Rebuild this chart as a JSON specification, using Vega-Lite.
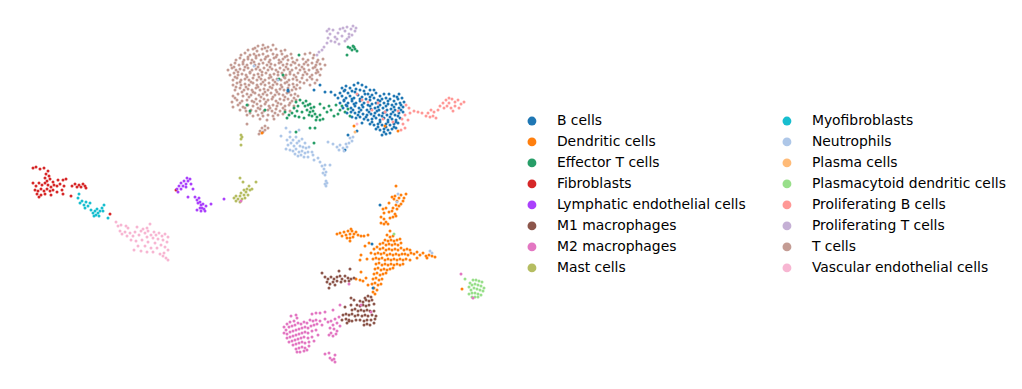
{"$schema":"https://vega.github.io/schema/vega-lite/v6.json","width":1022,"height":389,"autosize":{"type":"fit","contains":"padding"},"padding":0,"background":"white","config":{"view":{"stroke":null}},
"data":{"values":[
{"c":"T","x":258,"y":46},{"c":"T","x":263,"y":45},{"c":"T","x":268,"y":47},{"c":"T","x":273,"y":45},
{"c":"T","x":248,"y":50},{"c":"T","x":253,"y":49},{"c":"T","x":257,"y":51},{"c":"T","x":262,"y":49},{"c":"T","x":267,"y":51},{"c":"T","x":271,"y":50},{"c":"T","x":276,"y":49},{"c":"T","x":281,"y":51},{"c":"T","x":285,"y":50},
{"c":"T","x":241,"y":55},{"c":"T","x":245,"y":53},{"c":"T","x":250,"y":55},{"c":"T","x":254,"y":54},{"c":"T","x":259,"y":55},{"c":"T","x":263,"y":54},{"c":"T","x":268,"y":56},{"c":"T","x":273,"y":54},{"c":"T","x":277,"y":55},{"c":"T","x":282,"y":54},{"c":"T","x":287,"y":56},{"c":"T","x":291,"y":54},{"c":"T","x":305,"y":54},{"c":"T","x":310,"y":53},{"c":"T","x":314,"y":55},
{"c":"T","x":236,"y":60},{"c":"T","x":240,"y":58},{"c":"T","x":244,"y":60},{"c":"T","x":248,"y":59},{"c":"T","x":252,"y":60},{"c":"T","x":256,"y":58},{"c":"T","x":261,"y":60},{"c":"T","x":265,"y":59},{"c":"T","x":270,"y":60},{"c":"T","x":274,"y":58},{"c":"T","x":279,"y":60},{"c":"T","x":283,"y":59},{"c":"T","x":288,"y":60},{"c":"T","x":292,"y":58},{"c":"T","x":297,"y":60},{"c":"T","x":303,"y":59},{"c":"T","x":308,"y":60},{"c":"T","x":313,"y":58},{"c":"T","x":318,"y":60},{"c":"T","x":323,"y":59},
{"c":"T","x":231,"y":65},{"c":"T","x":235,"y":63},{"c":"T","x":239,"y":65},{"c":"T","x":243,"y":64},{"c":"T","x":247,"y":65},{"c":"T","x":251,"y":63},{"c":"T","x":255,"y":65},{"c":"T","x":259,"y":64},{"c":"T","x":263,"y":63},{"c":"T","x":267,"y":65},{"c":"T","x":271,"y":64},{"c":"T","x":275,"y":65},{"c":"T","x":279,"y":63},{"c":"T","x":283,"y":65},{"c":"T","x":287,"y":64},{"c":"T","x":291,"y":65},{"c":"T","x":295,"y":63},{"c":"T","x":299,"y":65},{"c":"T","x":304,"y":64},{"c":"T","x":308,"y":65},{"c":"T","x":312,"y":63},{"c":"T","x":316,"y":65},{"c":"T","x":320,"y":64},{"c":"T","x":325,"y":65},
{"c":"T","x":228,"y":70},{"c":"T","x":232,"y":68},{"c":"T","x":236,"y":70},{"c":"T","x":240,"y":69},{"c":"T","x":244,"y":70},{"c":"T","x":248,"y":68},{"c":"T","x":252,"y":70},{"c":"T","x":256,"y":69},{"c":"T","x":260,"y":70},{"c":"T","x":264,"y":68},{"c":"T","x":268,"y":70},{"c":"T","x":272,"y":69},{"c":"T","x":276,"y":70},{"c":"T","x":280,"y":68},{"c":"T","x":284,"y":70},{"c":"T","x":288,"y":69},{"c":"T","x":292,"y":70},{"c":"T","x":296,"y":68},{"c":"T","x":300,"y":70},{"c":"T","x":304,"y":69},{"c":"T","x":309,"y":70},{"c":"T","x":313,"y":68},{"c":"T","x":317,"y":70},{"c":"T","x":321,"y":69},
{"c":"T","x":230,"y":75},{"c":"T","x":234,"y":73},{"c":"T","x":238,"y":75},{"c":"T","x":242,"y":74},{"c":"T","x":246,"y":75},{"c":"T","x":250,"y":73},{"c":"T","x":254,"y":75},{"c":"T","x":258,"y":74},{"c":"T","x":262,"y":75},{"c":"T","x":266,"y":73},{"c":"T","x":270,"y":75},{"c":"T","x":274,"y":74},{"c":"T","x":278,"y":75},{"c":"T","x":282,"y":73},{"c":"T","x":286,"y":75},{"c":"T","x":290,"y":74},{"c":"T","x":294,"y":75},{"c":"T","x":298,"y":73},{"c":"T","x":303,"y":75},{"c":"T","x":307,"y":74},{"c":"T","x":312,"y":75},{"c":"T","x":316,"y":73},{"c":"T","x":320,"y":75},
{"c":"T","x":233,"y":80},{"c":"T","x":237,"y":78},{"c":"T","x":241,"y":80},{"c":"T","x":245,"y":79},{"c":"T","x":249,"y":80},{"c":"T","x":253,"y":78},{"c":"T","x":257,"y":80},{"c":"T","x":261,"y":79},{"c":"T","x":265,"y":80},{"c":"T","x":269,"y":78},{"c":"T","x":273,"y":80},{"c":"T","x":277,"y":79},{"c":"T","x":281,"y":80},{"c":"T","x":285,"y":78},{"c":"T","x":289,"y":80},{"c":"T","x":293,"y":79},{"c":"T","x":297,"y":80},{"c":"T","x":302,"y":78},{"c":"T","x":307,"y":80},{"c":"T","x":312,"y":79},{"c":"T","x":317,"y":80},
{"c":"T","x":233,"y":85},{"c":"T","x":237,"y":83},{"c":"T","x":241,"y":85},{"c":"T","x":245,"y":84},{"c":"T","x":249,"y":85},{"c":"T","x":253,"y":83},{"c":"T","x":257,"y":85},{"c":"T","x":261,"y":84},{"c":"T","x":265,"y":85},{"c":"T","x":269,"y":83},{"c":"T","x":273,"y":85},{"c":"T","x":277,"y":84},{"c":"T","x":281,"y":85},{"c":"T","x":285,"y":83},{"c":"T","x":289,"y":85},{"c":"T","x":293,"y":84},{"c":"T","x":297,"y":85},{"c":"T","x":304,"y":83},{"c":"T","x":310,"y":85},{"c":"T","x":315,"y":83},
{"c":"T","x":235,"y":90},{"c":"T","x":240,"y":88},{"c":"T","x":244,"y":90},{"c":"T","x":248,"y":89},{"c":"T","x":252,"y":90},{"c":"T","x":256,"y":88},{"c":"T","x":260,"y":90},{"c":"T","x":264,"y":89},{"c":"T","x":268,"y":90},{"c":"T","x":272,"y":88},{"c":"T","x":276,"y":90},{"c":"T","x":280,"y":89},{"c":"T","x":284,"y":90},{"c":"T","x":288,"y":88},{"c":"T","x":292,"y":90},{"c":"T","x":296,"y":89},{"c":"T","x":300,"y":88},
{"c":"T","x":233,"y":96},{"c":"T","x":238,"y":94},{"c":"T","x":243,"y":96},{"c":"T","x":247,"y":94},{"c":"T","x":251,"y":95},{"c":"T","x":255,"y":93},{"c":"T","x":259,"y":95},{"c":"T","x":263,"y":94},{"c":"T","x":267,"y":95},{"c":"T","x":271,"y":93},{"c":"T","x":275,"y":95},{"c":"T","x":279,"y":94},{"c":"T","x":283,"y":95},{"c":"T","x":287,"y":93},{"c":"T","x":291,"y":95},{"c":"T","x":295,"y":94},{"c":"T","x":298,"y":96},
{"c":"T","x":232,"y":102},{"c":"T","x":237,"y":100},{"c":"T","x":242,"y":101},{"c":"T","x":247,"y":100},{"c":"T","x":252,"y":101},{"c":"T","x":256,"y":99},{"c":"T","x":260,"y":101},{"c":"T","x":264,"y":99},{"c":"T","x":268,"y":100},{"c":"T","x":272,"y":99},{"c":"T","x":276,"y":101},{"c":"T","x":280,"y":99},{"c":"T","x":284,"y":100},{"c":"T","x":288,"y":99},{"c":"T","x":292,"y":101},{"c":"T","x":296,"y":100},
{"c":"T","x":233,"y":107},{"c":"T","x":238,"y":105},{"c":"T","x":243,"y":107},{"c":"T","x":248,"y":105},{"c":"T","x":253,"y":106},{"c":"T","x":257,"y":104},{"c":"T","x":261,"y":106},{"c":"T","x":265,"y":104},{"c":"T","x":269,"y":106},{"c":"T","x":273,"y":105},{"c":"T","x":277,"y":106},{"c":"T","x":281,"y":104},{"c":"T","x":285,"y":106},{"c":"T","x":289,"y":105},{"c":"T","x":294,"y":106},
{"c":"T","x":240,"y":110},{"c":"T","x":246,"y":111},{"c":"T","x":251,"y":110},{"c":"T","x":256,"y":111},{"c":"T","x":260,"y":109},{"c":"T","x":264,"y":111},{"c":"T","x":268,"y":110},{"c":"T","x":272,"y":111},{"c":"T","x":276,"y":109},{"c":"T","x":280,"y":111},{"c":"T","x":285,"y":110},{"c":"T","x":290,"y":111},
{"c":"T","x":247,"y":115},{"c":"T","x":253,"y":116},{"c":"T","x":258,"y":115},{"c":"T","x":263,"y":116},{"c":"T","x":268,"y":115},{"c":"T","x":273,"y":116},{"c":"T","x":278,"y":115},{"c":"T","x":283,"y":114},{"c":"T","x":260,"y":119},{"c":"T","x":267,"y":120},{"c":"T","x":274,"y":119},
{"c":"T","x":247,"y":124},{"c":"T","x":265,"y":126},{"c":"T","x":262,"y":128},{"c":"T","x":265,"y":130},{"c":"T","x":260,"y":131},{"c":"T","x":263,"y":132},{"c":"T","x":259,"y":134},{"c":"T","x":268,"y":128},
{"c":"T","x":255,"y":48},{"c":"T","x":265,"y":48},{"c":"T","x":248,"y":57},{"c":"T","x":256,"y":56},{"c":"T","x":266,"y":57},{"c":"T","x":276,"y":57},{"c":"T","x":285,"y":57},{"c":"T","x":243,"y":62},{"c":"T","x":254,"y":62},{"c":"T","x":269,"y":62},{"c":"T","x":281,"y":62},{"c":"T","x":293,"y":62},{"c":"T","x":306,"y":62},{"c":"T","x":317,"y":62},{"c":"T","x":234,"y":67},{"c":"T","x":245,"y":67},{"c":"T","x":258,"y":67},{"c":"T","x":270,"y":67},{"c":"T","x":286,"y":67},{"c":"T","x":302,"y":67},{"c":"T","x":315,"y":67},{"c":"T","x":238,"y":72},{"c":"T","x":250,"y":72},{"c":"T","x":262,"y":72},{"c":"T","x":278,"y":72},{"c":"T","x":290,"y":72},{"c":"T","x":305,"y":72},{"c":"T","x":318,"y":72},{"c":"T","x":235,"y":77},{"c":"T","x":247,"y":77},{"c":"T","x":259,"y":77},{"c":"T","x":271,"y":77},{"c":"T","x":284,"y":77},{"c":"T","x":296,"y":77},{"c":"T","x":310,"y":77},{"c":"T","x":240,"y":82},{"c":"T","x":251,"y":82},{"c":"T","x":263,"y":82},{"c":"T","x":275,"y":82},{"c":"T","x":287,"y":82},{"c":"T","x":300,"y":82},{"c":"T","x":236,"y":87},{"c":"T","x":246,"y":87},{"c":"T","x":258,"y":87},{"c":"T","x":270,"y":87},{"c":"T","x":282,"y":87},{"c":"T","x":294,"y":87},{"c":"T","x":242,"y":92},{"c":"T","x":253,"y":92},{"c":"T","x":265,"y":92},{"c":"T","x":277,"y":92},{"c":"T","x":289,"y":92},{"c":"T","x":235,"y":98},{"c":"T","x":249,"y":97},{"c":"T","x":261,"y":97},{"c":"T","x":273,"y":97},{"c":"T","x":285,"y":97},{"c":"T","x":294,"y":98},{"c":"T","x":240,"y":103},{"c":"T","x":254,"y":102},{"c":"T","x":266,"y":102},{"c":"T","x":278,"y":103},{"c":"T","x":290,"y":103},{"c":"T","x":245,"y":108},{"c":"T","x":258,"y":108},{"c":"T","x":270,"y":108},{"c":"T","x":283,"y":108},{"c":"T","x":250,"y":113},{"c":"T","x":262,"y":113},{"c":"T","x":275,"y":113},
{"c":"S","x":327,"y":31},{"c":"S","x":330,"y":34},{"c":"S","x":328,"y":38},{"c":"S","x":333,"y":30},{"c":"S","x":335,"y":37},{"c":"S","x":338,"y":33},{"c":"S","x":340,"y":29},{"c":"S","x":342,"y":36},{"c":"S","x":345,"y":31},{"c":"S","x":347,"y":27},{"c":"S","x":349,"y":34},{"c":"S","x":351,"y":29},{"c":"S","x":353,"y":26},{"c":"S","x":355,"y":31},{"c":"S","x":349,"y":37},{"c":"S","x":345,"y":41},{"c":"S","x":339,"y":44},{"c":"S","x":335,"y":42},{"c":"S","x":331,"y":41},{"c":"S","x":327,"y":43},{"c":"S","x":324,"y":47},{"c":"S","x":322,"y":50},{"c":"S","x":319,"y":52},{"c":"S","x":317,"y":55},{"c":"S","x":352,"y":35},{"c":"S","x":356,"y":28},{"c":"S","x":337,"y":39},{"c":"S","x":343,"y":28},{"c":"S","x":347,"y":39},{"c":"S","x":329,"y":29},
{"c":"E","x":350,"y":48},{"c":"E","x":353,"y":46},{"c":"E","x":355,"y":49},{"c":"E","x":352,"y":50},{"c":"E","x":354,"y":47},{"c":"E","x":357,"y":51},{"c":"E","x":347,"y":55},{"c":"E","x":348,"y":47},
{"c":"E","x":300,"y":100},{"c":"E","x":303,"y":103},{"c":"E","x":306,"y":101},{"c":"E","x":305,"y":106},{"c":"E","x":308,"y":105},{"c":"E","x":311,"y":108},{"c":"E","x":307,"y":110},{"c":"E","x":310,"y":112},{"c":"E","x":313,"y":111},{"c":"E","x":315,"y":114},{"c":"E","x":312,"y":116},{"c":"E","x":317,"y":117},{"c":"E","x":320,"y":115},{"c":"E","x":316,"y":120},{"c":"E","x":320,"y":120},{"c":"E","x":323,"y":119},{"c":"E","x":310,"y":104},{"c":"E","x":314,"y":107},{"c":"E","x":309,"y":115},{"c":"E","x":296,"y":102},{"c":"E","x":298,"y":106},{"c":"E","x":294,"y":108},{"c":"E","x":297,"y":111},{"c":"E","x":292,"y":113},{"c":"E","x":295,"y":116},{"c":"E","x":299,"y":117},{"c":"E","x":302,"y":112},{"c":"E","x":304,"y":118},{"c":"E","x":289,"y":115},{"c":"E","x":285,"y":112},{"c":"E","x":287,"y":118},{"c":"E","x":327,"y":112},{"c":"E","x":331,"y":110},{"c":"E","x":329,"y":106},{"c":"E","x":336,"y":105},{"c":"E","x":334,"y":116},{"c":"E","x":340,"y":110},{"c":"E","x":338,"y":114},{"c":"E","x":342,"y":106},{"c":"E","x":324,"y":108},{"c":"E","x":320,"y":104},{"c":"E","x":345,"y":112},{"c":"E","x":350,"y":116},{"c":"E","x":348,"y":109},{"c":"E","x":315,"y":128},{"c":"E","x":296,"y":132},{"c":"E","x":314,"y":143},{"c":"E","x":247,"y":105},{"c":"E","x":279,"y":79},{"c":"E","x":283,"y":75},{"c":"E","x":299,"y":55},{"c":"E","x":250,"y":111},{"c":"E","x":265,"y":110},
{"c":"B","x":342,"y":88},{"c":"B","x":346,"y":86},{"c":"B","x":350,"y":88},{"c":"B","x":354,"y":85},{"c":"B","x":358,"y":83},{"c":"B","x":362,"y":85},{"c":"B","x":366,"y":87},{"c":"B","x":370,"y":90},{"c":"B","x":374,"y":90},{"c":"B","x":340,"y":93},{"c":"B","x":344,"y":91},{"c":"B","x":348,"y":93},{"c":"B","x":352,"y":91},{"c":"B","x":356,"y":89},{"c":"B","x":360,"y":90},{"c":"B","x":364,"y":91},{"c":"B","x":368,"y":94},{"c":"B","x":372,"y":95},{"c":"B","x":376,"y":93},{"c":"B","x":380,"y":96},{"c":"B","x":384,"y":94},{"c":"B","x":389,"y":94},{"c":"B","x":394,"y":96},{"c":"B","x":399,"y":94},
{"c":"B","x":338,"y":98},{"c":"B","x":342,"y":96},{"c":"B","x":346,"y":98},{"c":"B","x":350,"y":96},{"c":"B","x":354,"y":98},{"c":"B","x":358,"y":95},{"c":"B","x":362,"y":97},{"c":"B","x":366,"y":99},{"c":"B","x":370,"y":100},{"c":"B","x":374,"y":98},{"c":"B","x":378,"y":100},{"c":"B","x":382,"y":99},{"c":"B","x":386,"y":98},{"c":"B","x":390,"y":99},{"c":"B","x":394,"y":101},{"c":"B","x":398,"y":99},{"c":"B","x":402,"y":98},
{"c":"B","x":340,"y":103},{"c":"B","x":344,"y":101},{"c":"B","x":348,"y":103},{"c":"B","x":352,"y":101},{"c":"B","x":356,"y":103},{"c":"B","x":360,"y":101},{"c":"B","x":364,"y":103},{"c":"B","x":368,"y":105},{"c":"B","x":372,"y":104},{"c":"B","x":376,"y":103},{"c":"B","x":380,"y":105},{"c":"B","x":384,"y":103},{"c":"B","x":388,"y":104},{"c":"B","x":392,"y":105},{"c":"B","x":396,"y":104},{"c":"B","x":400,"y":103},{"c":"B","x":404,"y":102},
{"c":"B","x":343,"y":108},{"c":"B","x":347,"y":106},{"c":"B","x":351,"y":108},{"c":"B","x":355,"y":106},{"c":"B","x":359,"y":108},{"c":"B","x":363,"y":107},{"c":"B","x":367,"y":110},{"c":"B","x":371,"y":109},{"c":"B","x":375,"y":108},{"c":"B","x":379,"y":110},{"c":"B","x":383,"y":108},{"c":"B","x":387,"y":110},{"c":"B","x":391,"y":109},{"c":"B","x":395,"y":110},{"c":"B","x":399,"y":108},{"c":"B","x":403,"y":107},
{"c":"B","x":347,"y":113},{"c":"B","x":351,"y":112},{"c":"B","x":355,"y":113},{"c":"B","x":359,"y":112},{"c":"B","x":363,"y":114},{"c":"B","x":367,"y":115},{"c":"B","x":371,"y":114},{"c":"B","x":375,"y":113},{"c":"B","x":379,"y":115},{"c":"B","x":383,"y":113},{"c":"B","x":387,"y":115},{"c":"B","x":391,"y":114},{"c":"B","x":395,"y":115},{"c":"B","x":399,"y":113},{"c":"B","x":403,"y":112},
{"c":"B","x":352,"y":117},{"c":"B","x":356,"y":118},{"c":"B","x":360,"y":117},{"c":"B","x":364,"y":119},{"c":"B","x":368,"y":120},{"c":"B","x":372,"y":119},{"c":"B","x":376,"y":118},{"c":"B","x":380,"y":120},{"c":"B","x":384,"y":118},{"c":"B","x":388,"y":120},{"c":"B","x":392,"y":119},{"c":"B","x":396,"y":120},{"c":"B","x":400,"y":118},
{"c":"B","x":362,"y":123},{"c":"B","x":370,"y":124},{"c":"B","x":374,"y":125},{"c":"B","x":378,"y":124},{"c":"B","x":382,"y":125},{"c":"B","x":386,"y":124},{"c":"B","x":390,"y":125},{"c":"B","x":394,"y":124},{"c":"B","x":398,"y":123},
{"c":"B","x":376,"y":129},{"c":"B","x":380,"y":130},{"c":"B","x":384,"y":129},{"c":"B","x":388,"y":130},{"c":"B","x":392,"y":129},{"c":"B","x":396,"y":128},{"c":"B","x":382,"y":135},{"c":"B","x":386,"y":134},{"c":"B","x":390,"y":133},
{"c":"B","x":345,"y":90},{"c":"B","x":355,"y":92},{"c":"B","x":365,"y":94},{"c":"B","x":344,"y":100},{"c":"B","x":352,"y":99},{"c":"B","x":360,"y":99},{"c":"B","x":370,"y":97},{"c":"B","x":380,"y":101},{"c":"B","x":388,"y":101},{"c":"B","x":397,"y":97},{"c":"B","x":346,"y":105},{"c":"B","x":354,"y":104},{"c":"B","x":362,"y":105},{"c":"B","x":370,"y":106},{"c":"B","x":378,"y":107},{"c":"B","x":386,"y":106},{"c":"B","x":394,"y":107},{"c":"B","x":401,"y":105},{"c":"B","x":353,"y":110},{"c":"B","x":361,"y":110},{"c":"B","x":369,"y":112},{"c":"B","x":377,"y":111},{"c":"B","x":385,"y":112},{"c":"B","x":393,"y":112},{"c":"B","x":401,"y":110},{"c":"B","x":358,"y":115},{"c":"B","x":366,"y":117},{"c":"B","x":374,"y":116},{"c":"B","x":382,"y":116},{"c":"B","x":390,"y":117},{"c":"B","x":398,"y":116},{"c":"B","x":372,"y":122},{"c":"B","x":380,"y":122},{"c":"B","x":388,"y":122},{"c":"B","x":396,"y":122},{"c":"B","x":378,"y":127},{"c":"B","x":386,"y":127},{"c":"B","x":394,"y":127},{"c":"B","x":384,"y":132},
{"c":"B","x":320,"y":85},{"c":"B","x":314,"y":90},{"c":"B","x":325,"y":92},{"c":"B","x":331,"y":92},{"c":"B","x":335,"y":95},{"c":"B","x":288,"y":91},{"c":"B","x":357,"y":131},{"c":"B","x":348,"y":135},{"c":"B","x":345,"y":150},
{"c":"R","x":440,"y":106},{"c":"R","x":443,"y":103},{"c":"R","x":446,"y":100},{"c":"R","x":449,"y":103},{"c":"R","x":452,"y":99},{"c":"R","x":455,"y":102},{"c":"R","x":458,"y":100},{"c":"R","x":461,"y":104},{"c":"R","x":464,"y":102},{"c":"R","x":447,"y":106},{"c":"R","x":451,"y":108},{"c":"R","x":455,"y":106},{"c":"R","x":459,"y":108},{"c":"R","x":453,"y":111},{"c":"R","x":449,"y":98},{"c":"R","x":444,"y":108},{"c":"R","x":438,"y":110},{"c":"R","x":434,"y":112},{"c":"R","x":431,"y":110},{"c":"R","x":428,"y":113},{"c":"R","x":433,"y":116},{"c":"R","x":436,"y":118},{"c":"R","x":430,"y":117},{"c":"R","x":426,"y":116},{"c":"R","x":422,"y":113},{"c":"R","x":418,"y":112},{"c":"R","x":414,"y":111},{"c":"R","x":409,"y":108},{"c":"R","x":406,"y":105},{"c":"R","x":410,"y":113},{"c":"R","x":405,"y":115},{"c":"R","x":408,"y":120},{"c":"R","x":403,"y":124},{"c":"R","x":405,"y":128},{"c":"R","x":401,"y":130},{"c":"R","x":372,"y":110},{"c":"R","x":385,"y":112},{"c":"R","x":362,"y":100},{"c":"R","x":393,"y":122},{"c":"R","x":378,"y":103},{"c":"R","x":357,"y":94},{"c":"R","x":368,"y":102},{"c":"R","x":383,"y":119},{"c":"R","x":398,"y":111},{"c":"R","x":402,"y":119},
{"c":"N","x":287,"y":140},{"c":"N","x":290,"y":137},{"c":"N","x":293,"y":140},{"c":"N","x":296,"y":137},{"c":"N","x":299,"y":141},{"c":"N","x":302,"y":139},{"c":"N","x":305,"y":143},{"c":"N","x":288,"y":145},{"c":"N","x":291,"y":143},{"c":"N","x":294,"y":146},{"c":"N","x":297,"y":143},{"c":"N","x":300,"y":146},{"c":"N","x":303,"y":147},{"c":"N","x":306,"y":148},{"c":"N","x":309,"y":147},{"c":"N","x":286,"y":149},{"c":"N","x":290,"y":150},{"c":"N","x":293,"y":151},{"c":"N","x":296,"y":149},{"c":"N","x":299,"y":152},{"c":"N","x":302,"y":151},{"c":"N","x":305,"y":153},{"c":"N","x":308,"y":152},{"c":"N","x":312,"y":152},{"c":"N","x":295,"y":154},{"c":"N","x":298,"y":156},{"c":"N","x":301,"y":155},{"c":"N","x":304,"y":157},{"c":"N","x":308,"y":157},{"c":"N","x":313,"y":155},{"c":"N","x":286,"y":128},{"c":"N","x":281,"y":136},{"c":"N","x":290,"y":132},{"c":"N","x":299,"y":130},{"c":"N","x":333,"y":144},{"c":"N","x":337,"y":147},{"c":"N","x":340,"y":145},{"c":"N","x":343,"y":148},{"c":"N","x":346,"y":144},{"c":"N","x":349,"y":143},{"c":"N","x":352,"y":141},{"c":"N","x":344,"y":151},{"c":"N","x":339,"y":150},{"c":"N","x":347,"y":147},{"c":"N","x":353,"y":137},{"c":"N","x":350,"y":138},{"c":"N","x":328,"y":142},{"c":"N","x":320,"y":162},{"c":"N","x":322,"y":166},{"c":"N","x":325,"y":165},{"c":"N","x":324,"y":169},{"c":"N","x":326,"y":172},{"c":"N","x":323,"y":173},{"c":"N","x":325,"y":175},{"c":"N","x":326,"y":181},{"c":"N","x":325,"y":184},{"c":"N","x":327,"y":183},{"c":"N","x":326,"y":186},{"c":"N","x":318,"y":158},{"c":"N","x":330,"y":165},{"c":"N","x":314,"y":160},
{"c":"P","x":355,"y":132},{"c":"E","x":310,"y":128},{"c":"D","x":354,"y":126},{"c":"D","x":262,"y":133},{"c":"V","x":357,"y":124},{"c":"D","x":398,"y":131},{"c":"D","x":385,"y":126},{"c":"N","x":254,"y":66},{"c":"N","x":278,"y":80},{"c":"B","x":288,"y":90},
{"c":"K","x":241,"y":135},{"c":"K","x":241,"y":139},{"c":"K","x":242,"y":137},{"c":"K","x":241,"y":145},
{"c":"F","x":33,"y":168},{"c":"F","x":36,"y":167},{"c":"F","x":40,"y":169},{"c":"F","x":44,"y":168},{"c":"F","x":48,"y":171},{"c":"F","x":46,"y":174},{"c":"F","x":49,"y":176},{"c":"F","x":45,"y":178},{"c":"F","x":50,"y":179},{"c":"F","x":47,"y":181},{"c":"F","x":53,"y":182},{"c":"F","x":58,"y":180},{"c":"F","x":63,"y":180},{"c":"F","x":66,"y":179},{"c":"F","x":33,"y":183},{"c":"F","x":36,"y":186},{"c":"F","x":39,"y":183},{"c":"F","x":42,"y":185},{"c":"F","x":45,"y":183},{"c":"F","x":48,"y":185},{"c":"F","x":51,"y":187},{"c":"F","x":54,"y":185},{"c":"F","x":57,"y":186},{"c":"F","x":60,"y":184},{"c":"F","x":64,"y":186},{"c":"F","x":35,"y":190},{"c":"F","x":38,"y":191},{"c":"F","x":41,"y":189},{"c":"F","x":44,"y":191},{"c":"F","x":47,"y":189},{"c":"F","x":50,"y":191},{"c":"F","x":53,"y":190},{"c":"F","x":57,"y":192},{"c":"F","x":62,"y":190},{"c":"F","x":37,"y":194},{"c":"F","x":41,"y":195},{"c":"F","x":45,"y":194},{"c":"F","x":39,"y":197},{"c":"F","x":51,"y":195},{"c":"F","x":63,"y":194},{"c":"F","x":75,"y":184},{"c":"F","x":77,"y":187},{"c":"F","x":79,"y":185},{"c":"F","x":81,"y":187},{"c":"F","x":83,"y":184},{"c":"F","x":85,"y":186},{"c":"F","x":86,"y":188},{"c":"F","x":72,"y":186},{"c":"F","x":71,"y":196},{"c":"F","x":110,"y":214},{"c":"F","x":176,"y":190},
{"c":"Y","x":78,"y":198},{"c":"Y","x":80,"y":203},{"c":"Y","x":82,"y":201},{"c":"Y","x":84,"y":205},{"c":"Y","x":86,"y":202},{"c":"Y","x":85,"y":208},{"c":"Y","x":88,"y":206},{"c":"Y","x":90,"y":203},{"c":"Y","x":91,"y":210},{"c":"Y","x":93,"y":213},{"c":"Y","x":95,"y":211},{"c":"Y","x":96,"y":215},{"c":"Y","x":98,"y":213},{"c":"Y","x":99,"y":216},{"c":"Y","x":97,"y":209},{"c":"Y","x":100,"y":211},{"c":"Y","x":102,"y":208},{"c":"Y","x":104,"y":205},{"c":"Y","x":103,"y":211},{"c":"Y","x":94,"y":216},{"c":"Y","x":108,"y":218},{"c":"Y","x":79,"y":194},
{"c":"V","x":116,"y":222},{"c":"V","x":118,"y":226},{"c":"V","x":121,"y":225},{"c":"V","x":120,"y":231},{"c":"V","x":122,"y":234},{"c":"V","x":125,"y":232},{"c":"V","x":127,"y":236},{"c":"V","x":130,"y":233},{"c":"V","x":128,"y":228},{"c":"V","x":133,"y":236},{"c":"V","x":131,"y":240},{"c":"V","x":135,"y":232},{"c":"V","x":137,"y":227},{"c":"V","x":139,"y":235},{"c":"V","x":141,"y":231},{"c":"V","x":143,"y":229},{"c":"V","x":145,"y":233},{"c":"V","x":148,"y":231},{"c":"V","x":150,"y":224},{"c":"V","x":151,"y":235},{"c":"V","x":154,"y":232},{"c":"V","x":156,"y":235},{"c":"V","x":159,"y":233},{"c":"V","x":162,"y":236},{"c":"V","x":165,"y":234},{"c":"V","x":168,"y":237},{"c":"V","x":147,"y":237},{"c":"V","x":153,"y":238},{"c":"V","x":158,"y":239},{"c":"V","x":163,"y":240},{"c":"V","x":167,"y":242},{"c":"V","x":136,"y":241},{"c":"V","x":142,"y":240},{"c":"V","x":148,"y":242},{"c":"V","x":155,"y":243},{"c":"V","x":161,"y":245},{"c":"V","x":165,"y":247},{"c":"V","x":138,"y":246},{"c":"V","x":145,"y":246},{"c":"V","x":151,"y":248},{"c":"V","x":157,"y":248},{"c":"V","x":134,"y":250},{"c":"V","x":141,"y":251},{"c":"V","x":147,"y":252},{"c":"V","x":153,"y":252},{"c":"V","x":168,"y":250},{"c":"V","x":164,"y":253},{"c":"V","x":160,"y":254},{"c":"V","x":163,"y":256},{"c":"V","x":166,"y":258},{"c":"V","x":168,"y":260},{"c":"V","x":147,"y":228},{"c":"V","x":126,"y":226},
{"c":"L","x":177,"y":189},{"c":"L","x":179,"y":186},{"c":"L","x":181,"y":189},{"c":"L","x":181,"y":183},{"c":"L","x":183,"y":186},{"c":"L","x":184,"y":181},{"c":"L","x":186,"y":184},{"c":"L","x":188,"y":181},{"c":"L","x":190,"y":179},{"c":"L","x":187,"y":178},{"c":"L","x":191,"y":184},{"c":"L","x":178,"y":192},{"c":"L","x":193,"y":189},{"c":"L","x":186,"y":187},{"c":"L","x":195,"y":197},{"c":"L","x":197,"y":200},{"c":"L","x":199,"y":198},{"c":"L","x":198,"y":203},{"c":"L","x":200,"y":202},{"c":"L","x":201,"y":205},{"c":"L","x":203,"y":204},{"c":"L","x":200,"y":208},{"c":"L","x":202,"y":208},{"c":"L","x":204,"y":209},{"c":"L","x":206,"y":206},{"c":"L","x":197,"y":210},{"c":"L","x":201,"y":211},{"c":"L","x":205,"y":211},{"c":"L","x":211,"y":204},{"c":"L","x":224,"y":199},{"c":"L","x":188,"y":197},
{"c":"K","x":234,"y":198},{"c":"K","x":236,"y":196},{"c":"K","x":238,"y":199},{"c":"K","x":240,"y":196},{"c":"K","x":242,"y":199},{"c":"K","x":241,"y":193},{"c":"K","x":244,"y":195},{"c":"K","x":246,"y":192},{"c":"K","x":248,"y":195},{"c":"K","x":250,"y":190},{"c":"K","x":252,"y":189},{"c":"K","x":247,"y":189},{"c":"K","x":244,"y":190},{"c":"K","x":236,"y":201},{"c":"K","x":245,"y":198},{"c":"K","x":240,"y":202},{"c":"K","x":249,"y":186},{"c":"K","x":240,"y":178},{"c":"K","x":243,"y":182},{"c":"K","x":256,"y":182},{"c":"W","x":241,"y":201},
{"c":"D","x":392,"y":197},{"c":"D","x":395,"y":196},{"c":"D","x":394,"y":199},{"c":"D","x":397,"y":201},{"c":"D","x":399,"y":198},{"c":"D","x":401,"y":195},{"c":"D","x":404,"y":198},{"c":"D","x":406,"y":194},{"c":"D","x":403,"y":201},{"c":"D","x":401,"y":204},{"c":"D","x":399,"y":206},{"c":"D","x":396,"y":205},{"c":"D","x":397,"y":209},{"c":"D","x":393,"y":208},{"c":"D","x":396,"y":186},{"c":"D","x":389,"y":203},{"c":"D","x":386,"y":208},{"c":"D","x":383,"y":209},{"c":"D","x":384,"y":213},{"c":"D","x":389,"y":212},{"c":"D","x":392,"y":211},{"c":"D","x":395,"y":214},{"c":"D","x":393,"y":217},{"c":"D","x":390,"y":218},{"c":"D","x":396,"y":216},{"c":"D","x":381,"y":217},{"c":"D","x":384,"y":219},{"c":"D","x":386,"y":222},{"c":"D","x":384,"y":224},{"c":"D","x":388,"y":224},{"c":"D","x":381,"y":223},
{"c":"D","x":337,"y":234},{"c":"D","x":340,"y":233},{"c":"D","x":342,"y":236},{"c":"D","x":344,"y":232},{"c":"D","x":346,"y":235},{"c":"D","x":348,"y":231},{"c":"D","x":350,"y":234},{"c":"D","x":352,"y":231},{"c":"D","x":354,"y":234},{"c":"D","x":353,"y":237},{"c":"D","x":350,"y":238},{"c":"D","x":347,"y":238},{"c":"D","x":351,"y":229},{"c":"D","x":356,"y":232},{"c":"D","x":358,"y":235},{"c":"D","x":361,"y":236},{"c":"D","x":364,"y":236},{"c":"D","x":368,"y":235},{"c":"D","x":350,"y":241},
{"c":"D","x":387,"y":235},{"c":"D","x":390,"y":237},{"c":"D","x":393,"y":236},{"c":"D","x":385,"y":240},{"c":"D","x":388,"y":241},{"c":"D","x":391,"y":240},{"c":"D","x":394,"y":241},{"c":"D","x":397,"y":240},{"c":"D","x":380,"y":244},{"c":"D","x":383,"y":243},{"c":"D","x":386,"y":245},{"c":"D","x":389,"y":244},{"c":"D","x":392,"y":245},{"c":"D","x":395,"y":244},{"c":"D","x":398,"y":245},{"c":"D","x":401,"y":243},{"c":"D","x":374,"y":249},{"c":"D","x":377,"y":247},{"c":"D","x":380,"y":249},{"c":"D","x":383,"y":248},{"c":"D","x":386,"y":250},{"c":"D","x":389,"y":249},{"c":"D","x":392,"y":250},{"c":"D","x":395,"y":249},{"c":"D","x":398,"y":250},{"c":"D","x":401,"y":248},{"c":"D","x":404,"y":250},{"c":"D","x":407,"y":249},{"c":"D","x":410,"y":250},{"c":"D","x":371,"y":253},{"c":"D","x":375,"y":254},{"c":"D","x":378,"y":253},{"c":"D","x":381,"y":254},{"c":"D","x":384,"y":253},{"c":"D","x":387,"y":255},{"c":"D","x":390,"y":254},{"c":"D","x":393,"y":255},{"c":"D","x":396,"y":254},{"c":"D","x":399,"y":255},{"c":"D","x":402,"y":254},{"c":"D","x":405,"y":254},{"c":"D","x":408,"y":255},{"c":"D","x":411,"y":253},{"c":"D","x":414,"y":254},{"c":"D","x":417,"y":252},{"c":"D","x":420,"y":255},{"c":"D","x":423,"y":253},{"c":"D","x":426,"y":256},{"c":"D","x":429,"y":255},{"c":"D","x":432,"y":256},{"c":"D","x":435,"y":257},{"c":"D","x":427,"y":258},{"c":"D","x":417,"y":258},{"c":"D","x":373,"y":259},{"c":"D","x":376,"y":258},{"c":"D","x":379,"y":259},{"c":"D","x":382,"y":258},{"c":"D","x":385,"y":260},{"c":"D","x":388,"y":259},{"c":"D","x":391,"y":260},{"c":"D","x":394,"y":259},{"c":"D","x":397,"y":260},{"c":"D","x":400,"y":259},{"c":"D","x":403,"y":260},{"c":"D","x":406,"y":259},{"c":"D","x":410,"y":260},{"c":"D","x":376,"y":264},{"c":"D","x":379,"y":263},{"c":"D","x":382,"y":265},{"c":"D","x":385,"y":264},{"c":"D","x":388,"y":265},{"c":"D","x":391,"y":264},{"c":"D","x":394,"y":265},{"c":"D","x":397,"y":264},{"c":"D","x":400,"y":265},{"c":"D","x":403,"y":264},{"c":"D","x":375,"y":269},{"c":"D","x":378,"y":268},{"c":"D","x":381,"y":270},{"c":"D","x":384,"y":269},{"c":"D","x":387,"y":270},{"c":"D","x":390,"y":269},{"c":"D","x":393,"y":268},{"c":"D","x":374,"y":274},{"c":"D","x":377,"y":273},{"c":"D","x":380,"y":275},{"c":"D","x":383,"y":274},{"c":"D","x":386,"y":273},{"c":"D","x":373,"y":279},{"c":"D","x":376,"y":278},{"c":"D","x":379,"y":280},{"c":"D","x":382,"y":279},{"c":"D","x":372,"y":284},{"c":"D","x":375,"y":283},{"c":"D","x":378,"y":285},{"c":"D","x":381,"y":284},{"c":"D","x":374,"y":288},{"c":"D","x":377,"y":290},{"c":"D","x":373,"y":292},{"c":"D","x":375,"y":294},{"c":"D","x":366,"y":278},{"c":"D","x":368,"y":285},{"c":"D","x":363,"y":281},{"c":"D","x":356,"y":279},{"c":"D","x":360,"y":280},{"c":"D","x":361,"y":272},{"c":"D","x":360,"y":260},{"c":"D","x":361,"y":255},{"c":"D","x":365,"y":246},{"c":"D","x":369,"y":243},{"c":"D","x":400,"y":239},{"c":"D","x":390,"y":231},{"c":"D","x":462,"y":289},{"c":"D","x":367,"y":259},
{"c":"M","x":325,"y":277},{"c":"M","x":328,"y":279},{"c":"M","x":331,"y":277},{"c":"M","x":334,"y":279},{"c":"M","x":337,"y":277},{"c":"M","x":340,"y":276},{"c":"M","x":342,"y":279},{"c":"M","x":345,"y":276},{"c":"M","x":348,"y":278},{"c":"M","x":351,"y":279},{"c":"M","x":354,"y":278},{"c":"M","x":327,"y":282},{"c":"M","x":330,"y":284},{"c":"M","x":333,"y":282},{"c":"M","x":337,"y":281},{"c":"M","x":341,"y":282},{"c":"M","x":345,"y":281},{"c":"M","x":349,"y":281},{"c":"M","x":329,"y":288},{"c":"M","x":335,"y":285},{"c":"M","x":339,"y":271},{"c":"M","x":350,"y":269},{"c":"M","x":322,"y":273},
{"c":"M","x":365,"y":298},{"c":"M","x":368,"y":296},{"c":"M","x":371,"y":297},{"c":"M","x":360,"y":301},{"c":"M","x":363,"y":302},{"c":"M","x":366,"y":300},{"c":"M","x":369,"y":301},{"c":"M","x":372,"y":300},{"c":"M","x":357,"y":305},{"c":"M","x":360,"y":306},{"c":"M","x":363,"y":305},{"c":"M","x":366,"y":306},{"c":"M","x":369,"y":305},{"c":"M","x":374,"y":304},{"c":"M","x":352,"y":310},{"c":"M","x":355,"y":309},{"c":"M","x":358,"y":311},{"c":"M","x":361,"y":310},{"c":"M","x":364,"y":311},{"c":"M","x":367,"y":310},{"c":"M","x":370,"y":311},{"c":"M","x":374,"y":311},{"c":"M","x":343,"y":315},{"c":"M","x":346,"y":314},{"c":"M","x":349,"y":315},{"c":"M","x":352,"y":314},{"c":"M","x":355,"y":316},{"c":"M","x":358,"y":315},{"c":"M","x":362,"y":316},{"c":"M","x":365,"y":315},{"c":"M","x":368,"y":316},{"c":"M","x":372,"y":315},{"c":"M","x":376,"y":316},{"c":"M","x":342,"y":320},{"c":"M","x":346,"y":319},{"c":"M","x":349,"y":320},{"c":"M","x":352,"y":321},{"c":"M","x":356,"y":320},{"c":"M","x":360,"y":320},{"c":"M","x":364,"y":321},{"c":"M","x":367,"y":320},{"c":"M","x":371,"y":320},{"c":"M","x":375,"y":319},{"c":"M","x":347,"y":323},{"c":"M","x":349,"y":321},{"c":"M","x":364,"y":325},{"c":"M","x":367,"y":324},{"c":"M","x":370,"y":325},{"c":"M","x":374,"y":323},{"c":"M","x":354,"y":300},{"c":"M","x":351,"y":298},{"c":"M","x":351,"y":305},{"c":"M","x":345,"y":307},
{"c":"W","x":284,"y":327},{"c":"W","x":287,"y":324},{"c":"W","x":290,"y":322},{"c":"W","x":294,"y":321},{"c":"W","x":297,"y":318},{"c":"W","x":286,"y":330},{"c":"W","x":289,"y":327},{"c":"W","x":292,"y":326},{"c":"W","x":295,"y":325},{"c":"W","x":298,"y":323},{"c":"W","x":301,"y":324},{"c":"W","x":304,"y":322},{"c":"W","x":307,"y":323},{"c":"W","x":310,"y":320},{"c":"W","x":313,"y":321},{"c":"W","x":316,"y":320},{"c":"W","x":320,"y":321},{"c":"W","x":325,"y":319},{"c":"W","x":284,"y":333},{"c":"W","x":287,"y":334},{"c":"W","x":290,"y":332},{"c":"W","x":293,"y":331},{"c":"W","x":296,"y":330},{"c":"W","x":299,"y":329},{"c":"W","x":302,"y":328},{"c":"W","x":305,"y":327},{"c":"W","x":308,"y":328},{"c":"W","x":311,"y":326},{"c":"W","x":314,"y":325},{"c":"W","x":317,"y":324},{"c":"W","x":322,"y":325},{"c":"W","x":287,"y":338},{"c":"W","x":290,"y":337},{"c":"W","x":293,"y":336},{"c":"W","x":296,"y":335},{"c":"W","x":299,"y":334},{"c":"W","x":302,"y":333},{"c":"W","x":305,"y":332},{"c":"W","x":308,"y":333},{"c":"W","x":312,"y":331},{"c":"W","x":316,"y":330},{"c":"W","x":289,"y":342},{"c":"W","x":292,"y":341},{"c":"W","x":295,"y":340},{"c":"W","x":298,"y":339},{"c":"W","x":301,"y":338},{"c":"W","x":304,"y":337},{"c":"W","x":308,"y":338},{"c":"W","x":312,"y":337},{"c":"W","x":318,"y":335},{"c":"W","x":293,"y":345},{"c":"W","x":296,"y":344},{"c":"W","x":299,"y":343},{"c":"W","x":302,"y":342},{"c":"W","x":305,"y":343},{"c":"W","x":309,"y":342},{"c":"W","x":314,"y":341},{"c":"W","x":296,"y":349},{"c":"W","x":299,"y":348},{"c":"W","x":302,"y":347},{"c":"W","x":305,"y":348},{"c":"W","x":309,"y":346},{"c":"W","x":297,"y":352},{"c":"W","x":300,"y":352},{"c":"W","x":304,"y":351},{"c":"W","x":307,"y":350},{"c":"W","x":291,"y":316},{"c":"W","x":296,"y":315},{"c":"W","x":312,"y":314},{"c":"W","x":316,"y":313},{"c":"W","x":320,"y":313},{"c":"W","x":325,"y":312},{"c":"W","x":333,"y":310},{"c":"W","x":340,"y":305},{"c":"W","x":331,"y":321},{"c":"W","x":335,"y":319},{"c":"W","x":339,"y":317},{"c":"W","x":328,"y":322},{"c":"W","x":333,"y":325},{"c":"W","x":337,"y":323},{"c":"W","x":340,"y":326},{"c":"W","x":330,"y":328},{"c":"W","x":334,"y":329},{"c":"W","x":337,"y":331},{"c":"W","x":331,"y":333},{"c":"W","x":333,"y":336},{"c":"W","x":336,"y":334},{"c":"W","x":329,"y":335},{"c":"W","x":325,"y":354},{"c":"W","x":329,"y":353},{"c":"W","x":335,"y":355},{"c":"W","x":330,"y":358},{"c":"W","x":332,"y":360},{"c":"W","x":334,"y":359},{"c":"W","x":335,"y":362},{"c":"W","x":361,"y":305},{"c":"W","x":371,"y":312},{"c":"W","x":349,"y":284},
{"c":"C","x":470,"y":283},{"c":"C","x":473,"y":280},{"c":"C","x":476,"y":280},{"c":"C","x":479,"y":281},{"c":"C","x":482,"y":282},{"c":"C","x":469,"y":287},{"c":"C","x":472,"y":285},{"c":"C","x":475,"y":284},{"c":"C","x":478,"y":285},{"c":"C","x":481,"y":286},{"c":"C","x":484,"y":288},{"c":"C","x":471,"y":290},{"c":"C","x":474,"y":288},{"c":"C","x":477,"y":289},{"c":"C","x":480,"y":290},{"c":"C","x":483,"y":291},{"c":"C","x":469,"y":294},{"c":"C","x":472,"y":293},{"c":"C","x":475,"y":293},{"c":"C","x":478,"y":294},{"c":"C","x":481,"y":295},{"c":"C","x":472,"y":297},{"c":"C","x":475,"y":297},{"c":"C","x":478,"y":297},{"c":"C","x":465,"y":279},{"c":"C","x":394,"y":234},{"c":"N","x":430,"y":251},{"c":"N","x":432,"y":253},{"c":"N","x":398,"y":194},{"c":"N","x":397,"y":202},{"c":"B","x":380,"y":205},{"c":"B","x":372,"y":244},{"c":"B","x":373,"y":288},{"c":"W","x":473,"y":298},{"c":"W","x":461,"y":274}
]},
"transform":[{"lookup":"c","from":{"data":{"values":[{"c":"B","cell":"B cells"},{"c":"D","cell":"Dendritic cells"},{"c":"E","cell":"Effector T cells"},{"c":"F","cell":"Fibroblasts"},{"c":"L","cell":"Lymphatic endothelial cells"},{"c":"M","cell":"M1 macrophages"},{"c":"W","cell":"M2 macrophages"},{"c":"K","cell":"Mast cells"},{"c":"Y","cell":"Myofibroblasts"},{"c":"N","cell":"Neutrophils"},{"c":"P","cell":"Plasma cells"},{"c":"C","cell":"Plasmacytoid dendritic cells"},{"c":"R","cell":"Proliferating B cells"},{"c":"S","cell":"Proliferating T cells"},{"c":"T","cell":"T cells"},{"c":"V","cell":"Vascular endothelial cells"}]},"key":"c","fields":["cell"]}}],
"mark":{"type":"circle","size":9,"opacity":1},
"encoding":{
"x":{"field":"x","type":"quantitative","axis":null,"scale":{"domain":[0,1022],"nice":false,"zero":false}},
"y":{"field":"y","type":"quantitative","axis":null,"scale":{"domain":[389,0],"nice":false,"zero":false}},
"color":{"field":"cell","type":"nominal","sort":null,"scale":{"domain":["B cells","Dendritic cells","Effector T cells","Fibroblasts","Lymphatic endothelial cells","M1 macrophages","M2 macrophages","Mast cells","Myofibroblasts","Neutrophils","Plasma cells","Plasmacytoid dendritic cells","Proliferating B cells","Proliferating T cells","T cells","Vascular endothelial cells"],"range":["#1f77b4","#ff7f0e","#279e68","#d62728","#aa40fc","#8c564b","#e377c2","#b5bd61","#17becf","#aec7e8","#ffbb78","#98df8a","#ff9896","#c5b0d5","#c49c94","#f7b6d2"]},
"legend":{"title":null,"orient":"none","legendX":525,"legendY":114,"columns":2,"columnPadding":34,"rowPadding":6,"symbolType":"circle","symbolSize":78,"symbolOpacity":1,"symbolStrokeWidth":0,"labelFont":"DejaVu Sans","labelFontSize":13.9,"labelColor":"#000000","labelOffset":18,"labelLimit":300}}
}}
